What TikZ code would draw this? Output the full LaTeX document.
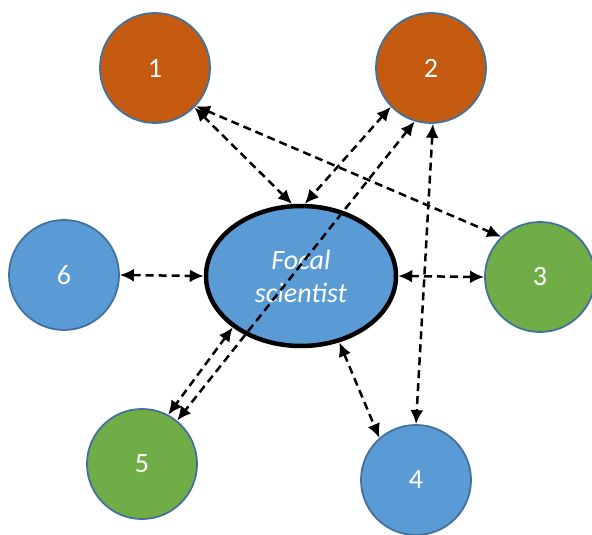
\documentclass[tikz,border=0pt]{standalone}
\usepackage{fontspec}
\setmainfont{Carlito}
\usetikzlibrary{arrows.meta,shapes.geometric}
\definecolor{orng}{HTML}{C55A11}
\definecolor{blu}{HTML}{5B9BD5}
\definecolor{grn}{HTML}{70AD47}
\definecolor{bord}{HTML}{41719C}
\tikzset{
  party/.style={circle, draw=bord, line width=1.8pt, minimum size=110pt, inner sep=0pt,
    text=white, font=\fontsize{28}{32}\selectfont},
  focal/.style={ellipse, draw=black, line width=4.5pt, fill=blu, minimum width=190pt,
    minimum height=140pt, inner sep=0pt, text=white, align=center,
    font=\fontsize{28}{33}\selectfont\itshape},
  link/.style={dashed, dash pattern=on 8pt off 5pt, line width=2.5pt,
    {Latex[length=14pt,width=13pt]}-{Latex[length=14pt,width=13pt]}}
}
\begin{document}
\begin{tikzpicture}[x=1pt,y=-1pt]
\useasboundingbox (0,0) rectangle (592,535);
\node[party, fill=orng] (n1) at (155,68) {1};
\node[party, fill=orng] (n2) at (431,68) {2};
\node[party, fill=blu] (n6) at (64,275) {6};
\node[party, fill=grn] (n3) at (540,277) {3};
\node[party, fill=grn] (n5) at (142,464) {5};
\node[party, fill=blu] (n4) at (416,480) {4};
\node[focal] (f) at (301,276) {Focal\\scientist};
\draw[link] (n1.-45) -- (f.97);
\draw[link] (n1.-43) -- (n3.134);
\draw[link] (n2.224) -- (f.87);
\draw[link] (n2.253) -- (n5.51);
\draw[link] (n2.272) -- (n4.90);
\draw[link] (n6.0) -- (f.180);
\draw[link] (f.0) -- (n3.180);
\draw[link] (f.217) -- (n5.62);
\draw[link] (f.300) -- (n4.131);
\end{tikzpicture}
\end{document}
